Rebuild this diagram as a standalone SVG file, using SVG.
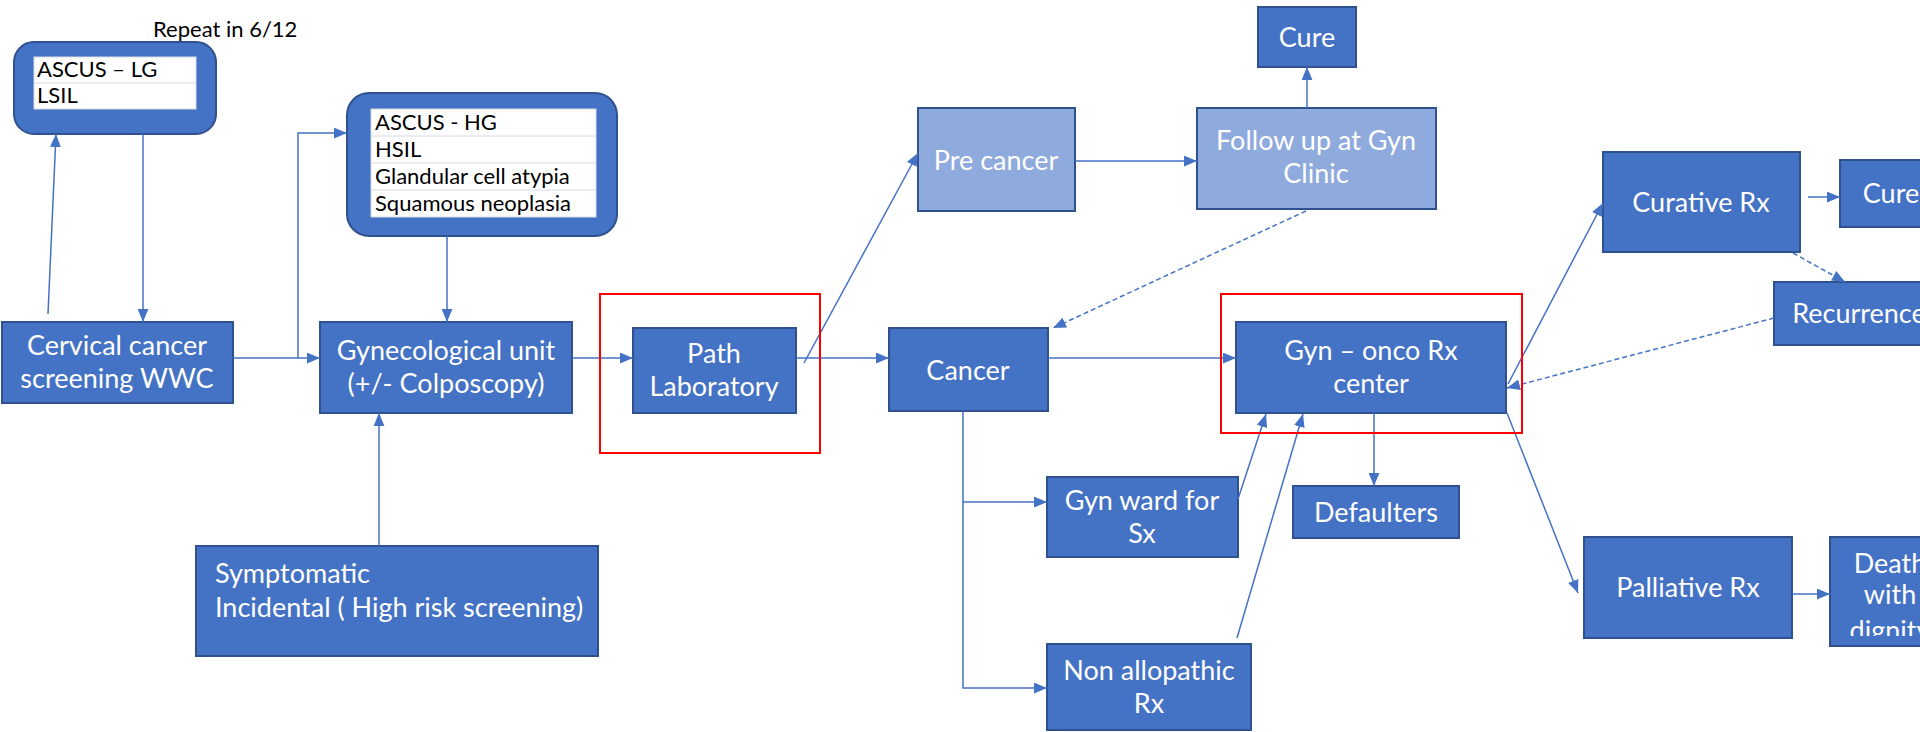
<svg xmlns="http://www.w3.org/2000/svg" width="1920" height="732" viewBox="0 0 1920 732">
<style>
.b{fill:#4472C4;stroke:#2F528F;stroke-width:2}
.l{fill:#8FAADC;stroke:#2F528F;stroke-width:2}
.t{font-family:Lato,"Open Sans",sans-serif;font-size:27px;fill:#fff;text-anchor:middle}
.tl{font-family:Lato,"Open Sans",sans-serif;font-size:27px;fill:#fff}
.k{font-family:Lato,"Open Sans",sans-serif;font-size:22px;fill:#000}
.tb{fill:#fff;stroke:#D6DCE5;stroke-width:1}
.c{fill:none;stroke:#4472C4;stroke-width:1.5;marker-end:url(#ah)}
.d{stroke-dasharray:5,3}
.red{fill:none;stroke:#FF0000;stroke-width:2}
</style>
<defs>
<marker id="ah" viewBox="0 0 12 10" refX="12" refY="5" markerWidth="13" markerHeight="11" markerUnits="userSpaceOnUse" orient="auto"><path d="M0,0 L12,5 L0,10 z" fill="#4472C4"/></marker>
<clipPath id="dc"><rect x="1830" y="537" width="90" height="99"/></clipPath>
</defs>
<rect width="1920" height="732" fill="#fff"/>

<g id="repeat-label"><text x="153" y="37" font-family="Lato,'Open Sans',sans-serif" font-size="22" fill="#000">Repeat in 6/12</text></g>

<g id="low-grade">
<rect x="14" y="42" width="202" height="92" rx="20" class="b"/>
<rect x="34" y="57" width="162" height="52" class="tb"/>
<line x1="34" y1="83" x2="196" y2="83" stroke="#D6DCE5"/>
<text x="37" y="77" class="k">ASCUS – LG</text>
<text x="37" y="103" class="k">LSIL</text>
</g>

<g id="high-grade">
<rect x="347" y="93" width="270" height="143" rx="22" class="b"/>
<rect x="371" y="109" width="225" height="108" class="tb"/>
<line x1="371" y1="136" x2="596" y2="136" stroke="#D6DCE5"/>
<line x1="371" y1="163" x2="596" y2="163" stroke="#D6DCE5"/>
<line x1="371" y1="190" x2="596" y2="190" stroke="#D6DCE5"/>
<text x="375" y="130" class="k">ASCUS - HG</text>
<text x="375" y="157" class="k">HSIL</text>
<text x="375" y="184" class="k">Glandular cell atypia</text>
<text x="375" y="211" class="k">Squamous neoplasia</text>
</g>

<g id="screening"><rect x="2" y="322" width="231" height="81" class="b"/><text x="117" y="355" class="t">Cervical cancer</text><text x="117" y="388" class="t">screening WWC</text></g>
<g id="gyn-unit"><rect x="320" y="322" width="252" height="91" class="b"/><text x="446" y="360" class="t">Gynecological unit</text><text x="446" y="393" class="t">(+/- Colposcopy)</text></g>
<g id="symptomatic"><rect x="196" y="546" width="402" height="110" class="b"/><text x="215" y="583" class="tl">Symptomatic</text><text x="215" y="617" class="tl">Incidental ( High risk screening)</text></g>
<g id="path-lab"><rect x="633" y="328" width="163" height="85" class="b"/><text x="714" y="363" class="t">Path</text><text x="714" y="396" class="t">Laboratory</text></g>
<g id="pre-cancer"><rect x="918" y="108" width="157" height="103" class="l"/><text x="996" y="170" class="t">Pre cancer</text></g>
<g id="follow-up"><rect x="1197" y="108" width="239" height="101" class="l"/><text x="1316" y="150" class="t">Follow up at Gyn</text><text x="1316" y="183" class="t">Clinic</text></g>
<g id="cure-top"><rect x="1258" y="7" width="98" height="60" class="b"/><text x="1307" y="47" class="t">Cure</text></g>
<g id="cancer"><rect x="889" y="328" width="159" height="83" class="b"/><text x="968" y="380" class="t">Cancer</text></g>
<g id="gyn-onco"><rect x="1236" y="322" width="270" height="91" class="b"/><text x="1371" y="360" class="t">Gyn – onco Rx</text><text x="1371" y="393" class="t">center</text></g>
<g id="gyn-ward"><rect x="1047" y="477" width="191" height="80" class="b"/><text x="1142" y="510" class="t">Gyn ward for</text><text x="1142" y="543" class="t">Sx</text></g>
<g id="defaulters"><rect x="1293" y="486" width="166" height="52" class="b"/><text x="1376" y="522" class="t">Defaulters</text></g>
<g id="non-allopathic"><rect x="1047" y="644" width="204" height="86" class="b"/><text x="1149" y="680" class="t">Non allopathic</text><text x="1149" y="713" class="t">Rx</text></g>
<g id="curative"><rect x="1603" y="152" width="197" height="100" class="b"/><text x="1701" y="212" class="t">Curative Rx</text></g>
<g id="cure-right"><rect x="1840" y="160" width="100" height="67" class="b"/><text x="1891" y="203" class="t">Cure</text></g>
<g id="recurrence"><rect x="1774" y="282" width="170" height="63" class="b"/><text x="1859" y="323" class="t">Recurrence</text></g>
<g id="palliative"><rect x="1584" y="537" width="208" height="101" class="b"/><text x="1688" y="597" class="t">Palliative Rx</text></g>
<g id="death"><rect x="1830" y="537" width="110" height="109" class="b"/><g clip-path="url(#dc)"><text x="1890" y="573" class="t">Death</text><text x="1890" y="604" class="t">with</text><text x="1890" y="640" class="t">dignity</text></g></g>

<g id="connectors">
<path class="c" d="M233,358 H320"/>
<path class="c" d="M298,358 V133 H347"/>
<path class="c" d="M48,314 L56,134"/>
<path class="c" d="M143,134 V322"/>
<path class="c" d="M447,236 V322"/>
<path class="c" d="M379,546 V413"/>
<path class="c" d="M572,358 H633"/>
<path class="c" d="M796,358 H889"/>
<path class="c" d="M804,363 L918,153"/>
<path class="c" d="M1075,161 H1197"/>
<path class="c" d="M1307,108 V67"/>
<path class="c d" d="M1306,211 L1053,328"/>
<path class="c" d="M1048,358 H1236"/>
<path class="c" d="M963,411 V688 H1047"/>
<path class="c" d="M963,502 H1047"/>
<path class="c" d="M1238,499 L1266,414"/>
<path class="c" d="M1237,638 L1303,414"/>
<path class="c" d="M1374,413 V486"/>
<path class="c" d="M1508,384 L1603,203"/>
<path class="c" d="M1507,413 L1578,593"/>
<path class="c d" d="M1774,318 L1507,388"/>
<path class="c d" d="M1793,253 L1845,282"/>
<path class="c" d="M1808,197 H1840"/>
<path class="c" d="M1792,594 H1830"/>
</g>

<g id="highlights">
<rect x="600" y="294" width="220" height="159" class="red"/>
<rect x="1221" y="294" width="301" height="139" class="red"/>
</g>
</svg>
